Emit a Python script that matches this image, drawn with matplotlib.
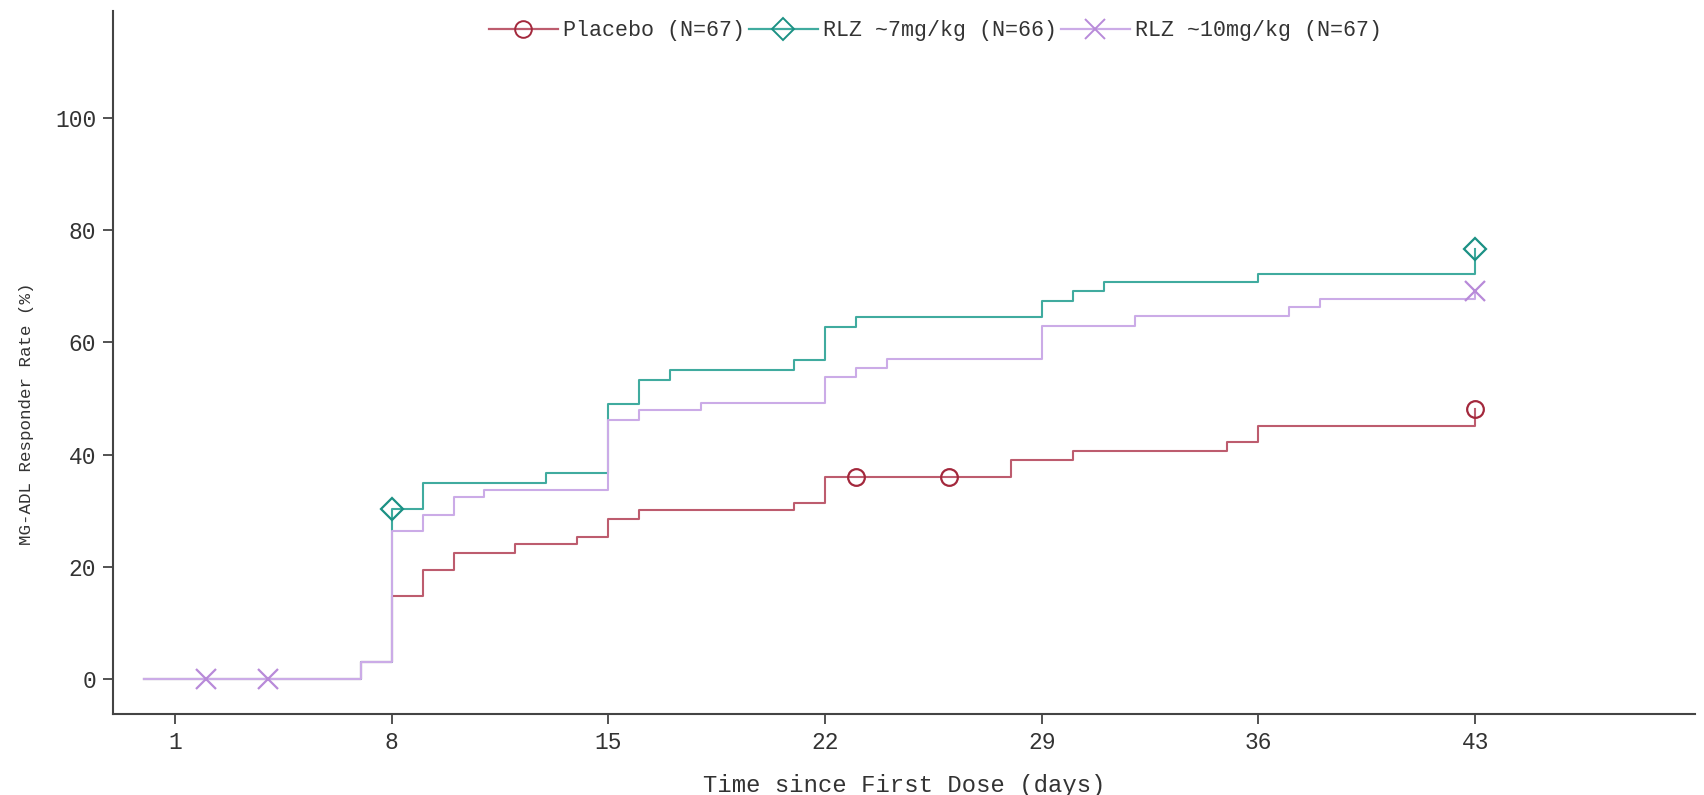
import numpy as np
import matplotlib
matplotlib.use("Agg")
import matplotlib.pyplot as plt
from matplotlib.lines import Line2D

# ---- data ----
placebo_days = [0, 7, 8, 9, 10, 12, 14, 15, 16, 21, 22, 28, 30, 35, 36, 43]
placebo_vals = [0, 3.0, 14.8, 19.5, 22.4, 24.0, 25.3, 28.6, 30.1, 31.4, 36.0, 39.1, 40.7, 42.2, 45.1, 48.2]
placebo_cens = [23, 26, 43]

rlz7_days = [0, 7, 8, 9, 13, 15, 16, 17, 21, 22, 23, 29, 30, 31, 36, 43]
rlz7_vals = [0, 3.0, 30.3, 35.0, 36.7, 49.0, 53.3, 55.1, 56.8, 62.8, 64.5, 67.4, 69.1, 70.8, 72.2, 76.6]
rlz7_cens = [8, 43]

rlz10_days = [0, 7, 8, 9, 10, 11, 15, 16, 18, 22, 23, 24, 29, 32, 37, 38, 43]
rlz10_vals = [0, 3.0, 26.4, 29.2, 32.4, 33.7, 46.2, 47.9, 49.2, 53.8, 55.4, 57.0, 63.0, 64.7, 66.3, 67.7, 69.1]
rlz10_cens = [2, 4, 43]

series_labels = ["Placebo (N=67)", "RLZ ~7mg/kg (N=66)", "RLZ ~10mg/kg (N=67)"]
x_ticks = [1, 8, 15, 22, 29, 36, 43]
y_ticks = [0, 20, 40, 60, 80, 100]

FONT = "Liberation Mono"
plt.rcParams['font.family'] = [FONT, 'DejaVu Sans']

fig = plt.figure(figsize=(17.04, 7.95), dpi=100)
ax = fig.add_axes([0.0663, 0.1019, 0.9284, 0.8841])

line_cols = ["#bd5c6e", "#40ab9f", "#cbabe7"]
mark_cols = ["#a3283c", "#1b9184", "#b88ad9"]
markers = ["o", "D", "x"]
msizes = [12, 11, 14]

def step_value(days, vals, d):
    i = np.searchsorted(days, d, side="right") - 1
    return vals[i]

series = [(placebo_days, placebo_vals, placebo_cens),
          (rlz7_days, rlz7_vals, rlz7_cens),
          (rlz10_days, rlz10_vals, rlz10_cens)]

handles = []
for (d, v, c), lc, mc, m, ms, lab in zip(series, line_cols, mark_cols, markers, msizes, series_labels):
    ax.step(d, v, where="post", color=lc, lw=1.5, zorder=2)
    cy = [step_value(np.array(d), np.array(v), cd) for cd in c]
    ax.plot(c, cy, ls="none", marker=m, ms=ms, mfc="none", mec=mc, mew=1.6, zorder=3)
    handles.append(Line2D([0], [0], color=lc, lw=1.6, marker=m, ms=ms, mfc="none", mec=mc, mew=1.4, label=lab))

ax.set_xlim(-1.0, 50.1)
ax.set_ylim(-6.2, 119)
ax.set_xticks(x_ticks)
ax.set_yticks(y_ticks)
ax.set_xticklabels([str(t) for t in x_ticks])
ax.set_yticklabels([str(t) for t in y_ticks])

for s in ["top", "right"]:
    ax.spines[s].set_visible(False)
for s in ["left", "bottom"]:
    ax.spines[s].set_color("#444444")
    ax.spines[s].set_linewidth(1.5)

ax.tick_params(axis="both", direction="out", length=7, width=1.3, color="#444444",
               labelsize=16.5, labelcolor="#333333")
ax.tick_params(axis="x", pad=5)
ax.tick_params(axis="y", pad=5)

ax.set_xlabel("Time since First Dose (days)", fontsize=17.2, color="#333333", labelpad=15)
ax.set_ylabel("MG-ADL Responder Rate (%)", fontsize=12.6, color="#333333")
ax.yaxis.set_label_coords(-0.050, 0.427)

leg = ax.legend(handles=handles, loc="center", bbox_to_anchor=(0.52, 0.972), ncol=3,
                frameon=False, fontsize=15.6, handlelength=3.2, columnspacing=0.15,
                handletextpad=0.25, borderpad=0)
for t in leg.get_texts():
    t.set_color("#333333")

fig.savefig("out.png", dpi=100)
